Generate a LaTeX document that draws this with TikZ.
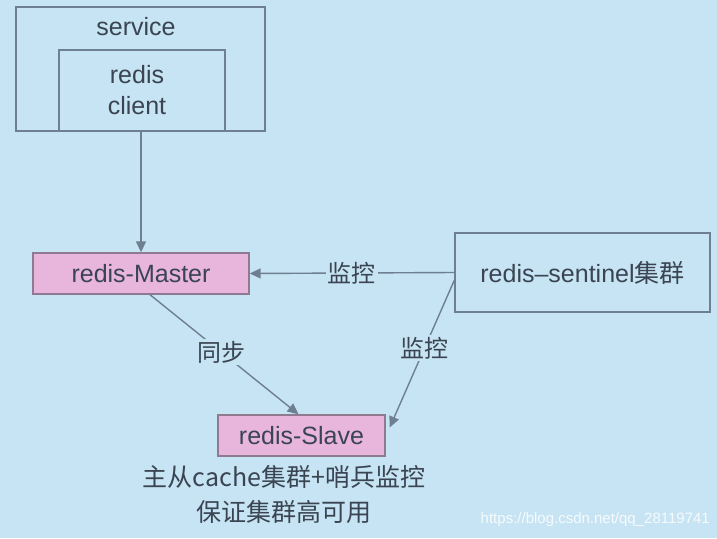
\documentclass[tikz,border=0pt]{standalone}
\usepackage{fontspec}
\setmainfont{Liberation Sans}
\newfontfamily\cjk{Noto Sans CJK SC}
\usetikzlibrary{arrows.meta,calc}
\definecolor{bgblue}{HTML}{C6E4F3}
\definecolor{linec}{HTML}{6E7F92}
\definecolor{txtc}{HTML}{3A4452}
\definecolor{pinkf}{HTML}{E8B5DD}
\definecolor{pinkd}{HTML}{8F7A92}
\tikzset{
  plainbox/.style={draw=linec, line width=1.6pt, fill=none, inner sep=0pt},
  pinkbox/.style={draw=pinkd, line width=1.4pt, fill=pinkf, inner sep=0pt, text=txtc, font=\fontsize{25}{30}\selectfont},
  lbl/.style={text=txtc, font=\fontsize{25}{30}\selectfont, inner sep=1pt},
  cjklbl/.style={text=txtc, font=\cjk\fontsize{24}{30}\selectfont, fill=bgblue, inner sep=2pt},
  conn/.style={draw=linec, line width=1.4pt, -{Triangle[width=10pt,length=11pt]}},
}
\begin{document}
\begin{tikzpicture}[x=1pt,y=-1pt]
\fill[bgblue] (0,0) rectangle (717,538);
\useasboundingbox (0,0) rectangle (717,538);
% service box
\node[plainbox, minimum width=249pt, minimum height=124pt] (service) at (140.5,69) {};
\node[lbl] (servicetxt) at (136,27) {service};
\node[plainbox, minimum width=166pt, minimum height=81pt] (client) at (142,90.5) {};
\node[lbl, align=center, font=\fontsize{25}{31}\selectfont] (clienttxt) at (137,90) {redis\\client};
% master
\node[pinkbox, minimum width=216pt, minimum height=41pt] (master) at (141,273.5) {redis-Master};
% sentinel
\node[plainbox, minimum width=255pt, minimum height=79pt, text=txtc, font=\fontsize{25}{30}\selectfont] (sentinel) at (582.5,272.5) {redis\char"2013 sentinel{\cjk 集群}};
% slave
\node[pinkbox, minimum width=167pt, minimum height=41pt] (slave) at (301.5,435.5) {redis-Slave};
% captions
\node[text=txtc, font=\cjk\fontsize{25}{30}\selectfont, inner sep=0pt] (cap1) at (284,477) {主从cache集群+哨兵监控};
\node[text=txtc, font=\cjk\fontsize{25}{30}\selectfont, inner sep=0pt] (cap2) at (284,512) {保证集群高可用};
% watermark
\node[text=white, opacity=0.85, font=\fontsize{15}{18}\selectfont, inner sep=0pt, anchor=east] (wm) at (710,520) {https://blog.csdn.net/qq\_28119741};
% connectors
\draw[conn] (master.north |- client.south) -- (master.north);
\draw[conn] (sentinel.west) -- node[cjklbl] (l1) {监控} (master.east);
\draw[conn] ($(master.south)+(9,0)$) -- node[cjklbl, pos=0.48] (l2) {同步} ($(slave.north)+(-3,0)$);
\draw[conn] ($(sentinel.west)+(0,8)$) -- node[cjklbl, pos=0.46] (l3) {监控} ($(slave.east)+(4,-8)$);
\end{tikzpicture}
\end{document}
